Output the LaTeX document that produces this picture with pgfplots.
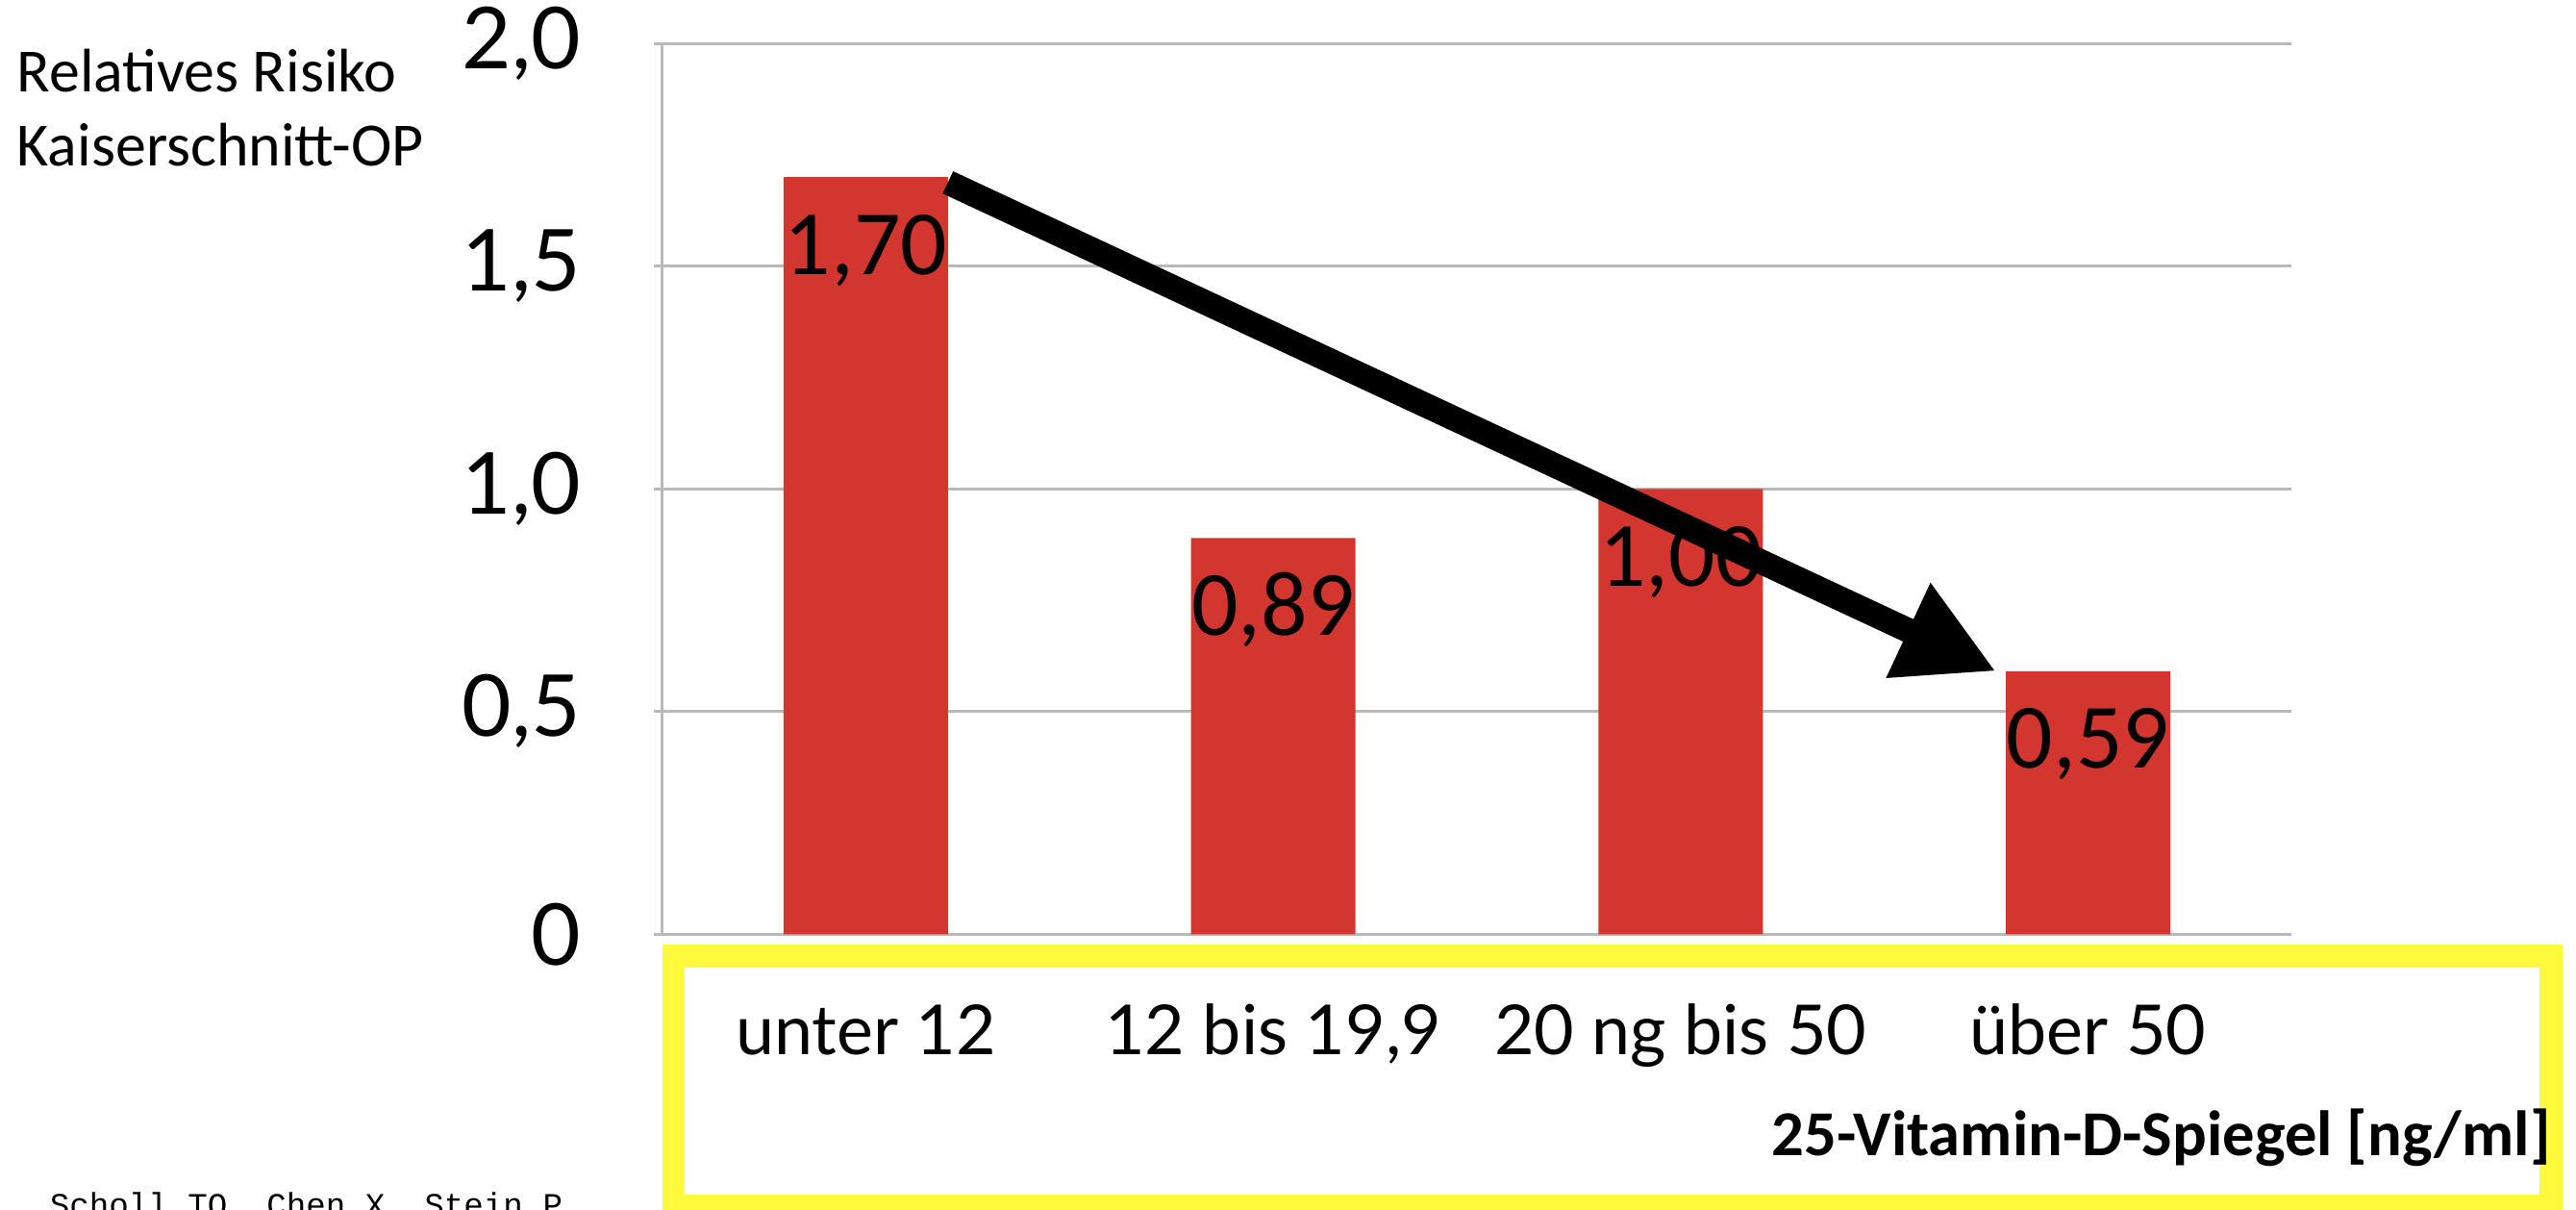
\documentclass[border=0pt]{standalone}
\usepackage{fontspec}
\setmainfont{Carlito}
\newfontfamily\gill{Lato}
\newfontfamily\cour{Liberation Mono}
\usepackage{pgfplots}
\pgfplotsset{compat=1.18}
\usetikzlibrary{arrows.meta}
\definecolor{barred}{RGB}{210,54,46}
\definecolor{hlyellow}{RGB}{255,250,60}
\definecolor{gridgray}{RGB}{185,185,185}
\begin{document}
\begin{tikzpicture}
\path[use as bounding box] (0,0) rectangle (784pt,-368pt);
\draw[hlyellow, line width=7pt] (205pt,-291pt) rectangle (776.5pt,-367pt);
\begin{axis}[
  at={(201.5pt,-284.25pt)}, anchor=south west,
  scale only axis, width=496pt, height=271pt,
  xmin=-0.5, xmax=3.5, ymin=0, ymax=2,
  ybar, bar width=50pt,
  axis x line*=bottom, axis y line*=left,
  axis line style={draw=gridgray, line width=0.8pt},
  ymajorgrids, grid style={draw=gridgray, line width=0.8pt},
  tick align=outside,
  major tick length=2.5pt,
  tick style={draw=gridgray, line width=0.8pt},
  ytick={0,0.5,1,1.5,2},
  yticklabels={0,{0,5},{1,0},{1,5},{2,0}},
  y tick label style={font=\gill\fontsize{26}{26}\selectfont, anchor=east, inner sep=0pt, xshift=-22pt},
  xtick={0,1,2,3},
  xticklabels={unter 12,{12 bis 19,9},20 ng bis 50,über 50},
  major x tick style={draw=none},
  x tick label style={font=\gill\fontsize{21}{21}\selectfont, anchor=base, inner sep=0pt, yshift=-34pt},
  extra x ticks={-0.5,0.5,1.5,2.5,3.5},
  extra x tick labels={},
  extra x tick style={tick style={draw=gridgray, line width=0.8pt}, major tick length=4pt},
  /pgf/number format/assume math mode=true,
  nodes near coords,
  nodes near coords style={/pgf/number format/fixed, /pgf/number format/fixed zerofill, /pgf/number format/precision=2, /pgf/number format/use comma},
  every node near coord/.append style={anchor=base, yshift=-29.5pt, font=\fontsize{28}{28}\selectfont, text=black},
]
\addplot[fill=barred, draw=none] coordinates {(0,1.70) (1,0.89) (2,1.00) (3,0.59)};
\end{axis}
\draw[line width=7.5pt, -{Triangle[length=29.5pt,width=29.7pt]}] (288.5pt,-55.5pt) -- (607.5pt,-204.25pt);
\node[anchor=base west, inner sep=0pt, font=\fontsize{18.7}{18.7}\selectfont] at (5pt,-28pt) {Relatives Risiko};
\node[anchor=base west, inner sep=0pt, font=\fontsize{18.7}{18.7}\selectfont] at (5pt,-50.5pt) {Kaiserschnitt-OP};
\node[anchor=base east, inner sep=0pt, font=\bfseries\fontsize{19.5}{19.5}\selectfont] at (776.5pt,-351.5pt) {25-Vitamin-D-Spiegel [ng/ml]};
\node[anchor=base west, inner sep=0pt, font=\cour\fontsize{10}{10}\selectfont] at (15pt,-370pt) {Scholl TO, Chen X, Stein P};
\end{tikzpicture}
\end{document}
